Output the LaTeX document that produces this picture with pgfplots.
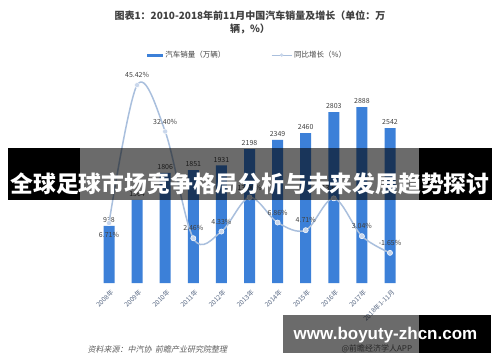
\documentclass[border=0pt]{standalone}
\usepackage{pgfplots}
\usepackage{pgfplotstable}
\pgfplotsset{compat=1.18}
\usepackage{fontspec}
\newfontfamily\cjk{Noto Sans CJK SC}
\newfontfamily\cjksl{Noto Sans CJK SC}[FakeSlant=0.2]
\newfontfamily\wm{Liberation Sans}
\definecolor{barblue}{HTML}{3C80D8}
\definecolor{linec}{HTML}{A9BFDD}
\definecolor{markc}{HTML}{C9D7EC}
\definecolor{txt}{HTML}{404040}
\definecolor{tickc}{HTML}{5A6A85}
\definecolor{srcc}{HTML}{606060}

\pgfplotstableread{
x y lab
0 6.71 {}
1 45.42 45.42\%
2 32.40 32.40\%
3 2.46 2.46\%
4 4.33 4.33\%
5 13.90 13.90\%
6 6.86 6.86\%
7 4.71 4.71\%
8 13.65 13.65\%
9 3.04 3.04\%
10 -1.65 -1.65\%
}\growth

\begin{document}
\begin{tikzpicture}[x=1pt,y=1pt]
\path[use as bounding box, fill=white] (0,0) rectangle (500,362);
\node[font=\cjk\bfseries\fontsize{10}{13}\selectfont, text=txt, align=center] at (250,340) {图表1：2010-2018年前11月中国汽车销量及增长（单位：万\\辆，\%）};

\begin{axis}[
  at={(94.95pt,79pt)}, anchor=south west,
  scale only axis, width=309.1pt, height=182.8pt,
  xmin=-0.5, xmax=10.5, ymin=0, ymax=3000,
  axis line style={draw=none}, tick style={draw=none},
  ytick=\empty,
  xtick={0,...,10},
  xticklabels={2008年,2009年,2010年,2011年,2012年,2013年,2014年,2015年,2016年,2017年,2018年1-11月},
  x tick label style={rotate=45, anchor=east, font=\cjk\fontsize{6.5}{7}\selectfont, text=tickc, yshift=-8pt, xshift=0pt},
  clip=false,
  legend style={at={(0.494,1.247)}, anchor=center, draw=none, fill=none, font=\cjk\fontsize{7.5}{8}\selectfont, text=txt, legend columns=2, /tikz/every even column/.append style={column sep=44pt}},
]
\addplot[ybar, bar width=11pt, bar shift=0pt, fill=barblue, draw=none,
  point meta=explicit symbolic, nodes near coords,
  every node near coord/.append style={font=\cjk\fontsize{7}{8}\selectfont, text=txt, inner sep=2pt, yshift=1pt},
  legend image code/.code={\fill[barblue] (0pt,-1.5pt) rectangle (16pt,1.5pt);}]
coordinates {(0,938) [938] (1,1364) [1364] (2,1806) [1806] (3,1851) [1851] (4,1931) [1931] (5,2198) [2198] (6,2349) [2349] (7,2460) [2460] (8,2803) [2803] (9,2888) [2888] (10,2542) [2542]};
\addlegendentry{汽车销量（万辆）}
\addlegendimage{legend image code/.code={\draw[linec, line width=0.8pt] (0pt,0pt)--(20pt,0pt); \fill[markc] (10pt,0pt) circle (1.5pt);}}
\addlegendentry{同比增长（\%）}
\end{axis}

\begin{axis}[
  at={(94.95pt,79pt)}, anchor=south west,
  scale only axis, width=309.1pt, height=182.8pt,
  xmin=-0.5, xmax=10.5, ymin=-10.1, ymax=41.18,
  hide axis, clip=false,
]
\addplot[linec, line width=1.5pt, smooth, tension=0.55, mark=*, mark size=2.6pt,
  mark options={fill=markc, draw=white, line width=0.5pt},
  point meta=explicit symbolic, nodes near coords,
  every node near coord/.append style={font=\cjk\fontsize{7}{8}\selectfont, text=txt, anchor=south, inner sep=3pt, yshift=4pt}]
table[x=x, y=y, meta=lab] {\growth};
\addplot[draw=none, mark=none, point meta=explicit symbolic, nodes near coords,
  every node near coord/.append style={font=\cjk\fontsize{7}{8}\selectfont, text=txt, anchor=north, inner sep=3pt, yshift=-6pt}]
coordinates {(0,6.71) [6.71\%]};
\end{axis}

\node[font=\cjksl\fontsize{8}{9}\selectfont, text=srcc, anchor=west] at (84,13) {资料来源：中汽协\ \ 前瞻产业研究院整理};
\node[font=\cjk\fontsize{8}{9}\selectfont, text=srcc, anchor=west] at (338,13) {@前瞻经济学人APP};

% top banner
\fill[black] (8,162) rectangle (80,214);
\fill[black, opacity=0.58] (80,162) rectangle (419,214);
\fill[black] (419,162) rectangle (492,214);
\node[font=\cjk\bfseries\fontsize{22.8}{24}\selectfont, text=white] at (250,178) {全球足球市场竞争格局分析与未来发展趋势探讨};

% bottom banner
\fill[black, opacity=0.58] (283,9) rectangle (419,47);
\fill[black] (419,9) rectangle (491,47);
\node[font=\wm\bfseries\fontsize{17}{18}\selectfont, text=white] at (385.5,27) {www.boyuty-zhcn.com};
\end{tikzpicture}
\end{document}
